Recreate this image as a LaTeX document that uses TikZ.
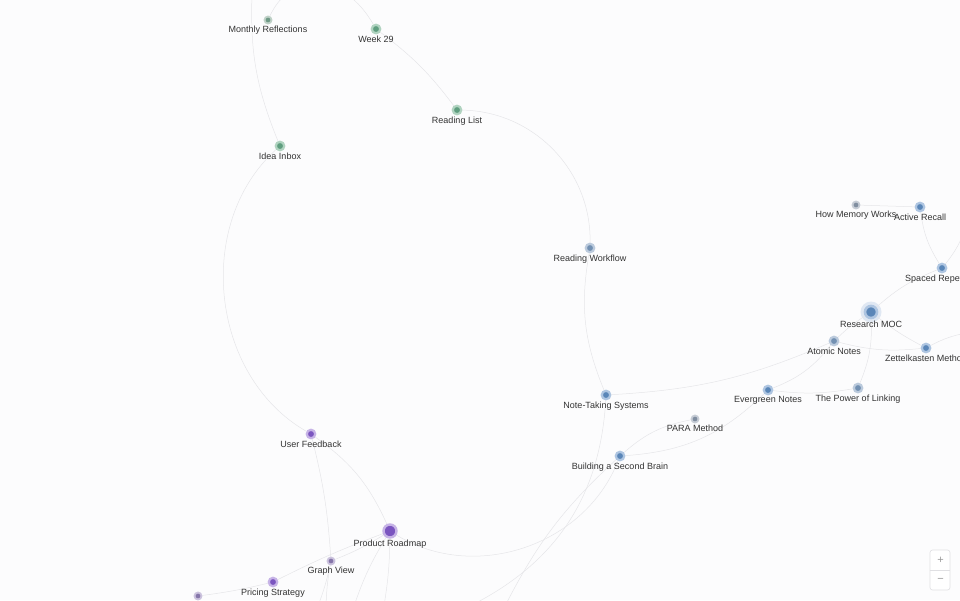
\documentclass[tikz,border=0pt]{standalone}
\usepackage{fontspec}
\setmainfont{Liberation Sans}
\usetikzlibrary{positioning,backgrounds}

\definecolor{bggray}{HTML}{FCFCFD}
\definecolor{linkgray}{HTML}{E6E6E9}
\definecolor{labelgray}{HTML}{333333}
\definecolor{greenfill}{HTML}{5F9E7F}
\definecolor{greenring}{HTML}{B0D3C0}
\definecolor{mossfill}{HTML}{6F9A86}
\definecolor{mossring}{HTML}{BFD1C7}
\definecolor{bluefill}{HTML}{5A86B8}
\definecolor{bluering}{HTML}{AEC5E1}
\definecolor{slatefill}{HTML}{7290B2}
\definecolor{slatering}{HTML}{BBCADC}
\definecolor{greyfill}{HTML}{808EA0}
\definecolor{greyring}{HTML}{C6CCD5}
\definecolor{purplefill}{HTML}{7B55C0}
\definecolor{purplering}{HTML}{C6B3E6}
\definecolor{mauvefill}{HTML}{8676AA}
\definecolor{mauvering}{HTML}{CBC2DD}
\definecolor{zoomgray}{HTML}{E0E0E3}
\definecolor{signgray}{HTML}{9A9A9A}

\pgfdeclarelayer{links}
\pgfsetlayers{background,links,main}

\begin{document}
\begin{tikzpicture}[x=1pt,y=1pt,
every edge/.style={draw=linkgray,line width=0.5pt},
every label/.style={text=labelgray,inner sep=1pt,font=\fontsize{9}{10}\selectfont},
label distance=0pt]

\tikzstyle{dot}=[circle,inner sep=0pt,minimum size=8.5pt,line width=2.2pt]
\tikzstyle{small}=[minimum size=7pt,line width=1.8pt]
\tikzstyle{big}=[minimum size=12pt,line width=2.6pt]
\tikzstyle{huge}=[minimum size=13pt,line width=2.4pt]
\tikzstyle{gcol}=[fill=greenfill,draw=greenring]
\tikzstyle{mcol}=[fill=mossfill,draw=mossring]
\tikzstyle{bcol}=[fill=bluefill,draw=bluering]
\tikzstyle{scol}=[fill=slatefill,draw=slatering]
\tikzstyle{greycol}=[fill=greyfill,draw=greyring]
\tikzstyle{pcol}=[fill=purplefill,draw=purplering]
\tikzstyle{vcol}=[fill=mauvefill,draw=mauvering]
\tikzstyle{zoombox}=[draw=zoomgray,fill=white,rounded corners=2.5pt,
minimum width=20pt,minimum height=40pt,line width=0.6pt]
\tikzstyle{zoomsign}=[text=signgray,inner sep=0pt,font=\fontsize{11}{11}\selectfont]

\useasboundingbox (0,0) rectangle (960,-600);
\begin{pgfonlayer}{background}
\fill[bggray] (0,0) rectangle (960,-600);
\end{pgfonlayer}

%journal notes
\node[dot,small,mcol,label=below:Monthly Reflections] (mr) at (268,-20) {};
\node[dot,gcol,label=below:Week 29] (wk) at (376,-29) {};
\node[dot,gcol,label=below:Reading List] (rl) at (457,-110) {};
\node[dot,gcol,label=below:Idea Inbox] (ii) at (280,-146) {};

%research notes
\node[dot,scol,label=below:Reading Workflow] (rw) at (590,-248) {};
\node[dot,small,greycol,label=below:How Memory Works] (hmw) at (856,-205) {};
\node[dot,bcol,label=below:Active Recall] (ar) at (920,-207) {};
\node[dot,bcol,label=below:Spaced Repetition] (sr) at (942,-268) {};
\node[dot,big,bcol,label=below:Research MOC] (moc) at (871,-312) {};
\node[dot,scol,label=below:Atomic Notes] (an) at (834,-341) {};
\node[dot,bcol,label=below:Zettelkasten Method] (zk) at (926,-348) {};
\node[dot,scol,label=below:The Power of Linking] (pl) at (858,-388) {};
\node[dot,bcol,label=below:Evergreen Notes] (en) at (768,-390) {};
\node[dot,small,greycol,label=below:PARA Method] (para) at (695,-419) {};
\node[dot,bcol,label=below:Note-Taking Systems] (nts) at (606,-395) {};
\node[dot,bcol,label=below:Building a Second Brain] (bsb) at (620,-456) {};

%product notes
\node[dot,pcol,label=below:User Feedback] (uf) at (311,-434) {};
\node[dot,huge,pcol,label=below:Product Roadmap] (pr) at (390,-531) {};
\node[dot,small,vcol,label=below:Graph View] (gv) at (331,-561) {};
\node[dot,pcol,label=below:Pricing Strategy] (ps) at (273,-582) {};
\node[dot,small,vcol] (nx) at (198,-596) {};

%links leaving the view
\coordinate (tA) at (252,6);
\coordinate (tB) at (286,6);
\coordinate (tC) at (347,6);
\coordinate (rA) at (966,-226);
\coordinate (rB) at (966,-333);
\coordinate (bA) at (470,-606);
\coordinate (bB) at (505,-606);
\coordinate (bC) at (384,-606);
\coordinate (bD) at (354,-606);
\coordinate (bE) at (318,-606);
\coordinate (bF) at (326,-606);

\begin{pgfonlayer}{background}
\fill[bluering,opacity=0.35] (moc) circle (10.5);
\end{pgfonlayer}

\begin{pgfonlayer}{links}
\path (tA) edge[bend right=12] (ii);
\path (mr) edge[bend left=10] (tB);
\path (tC) edge[bend left=10] (wk);
\path (wk) edge[bend left=8] (rl);
\path (rl) edge[bend left=45] (rw);
\path (rw) edge[bend right=16] (nts);
\path (ii) edge[bend right=54] (uf);
\path (nts) edge[bend right=10] (an);
\path (nts) edge[bend left=30] (bA);
\path (bsb) edge[bend right=10] (bB);
\path (bsb) edge[bend left=15] (para);
\path (bsb) edge[bend right=20] (en);
\path (en) edge[bend right=15] (an);
\path (en) edge[bend right=8] (pl);
\path (an) edge[bend left=5] (moc);
\path (an) edge[bend right=10] (zk);
\path (moc) edge[bend right=5] (zk);
\path (moc) edge[bend left=12] (pl);
\path (moc) edge[bend left=10] (sr);
\path (sr) edge[bend left=12] (ar);
\path (sr) edge[bend right=10] (rA);
\path (hmw) edge (ar);
\path (zk) edge[bend left=8] (rB);
\path (uf) edge[bend left=15] (pr);
\path (uf) edge[bend left=5] (gv);
\path (pr) edge[bend right=50] (bsb);
\path (pr) edge[bend left=5] (gv);
\path (pr) edge[bend right=3] (ps);
\path (pr) edge[bend left=4] (bC);
\path (pr) edge[bend right=6] (bD);
\path (gv) edge[bend left=4] (bE);
\path (gv) edge[bend right=4] (bF);
\path (ps) edge[bend left=3] (nx);
\end{pgfonlayer}

%zoom control
\node[zoombox] (zoom) at (940,-570) {};
\draw[zoomgray,line width=0.6pt] (zoom.west) -- (zoom.east);
\node[zoomsign] (zin) at (940.5,-560) {+};
\node[zoomsign] (zout) at (940.5,-580) {−};

\end{tikzpicture}
\end{document}
